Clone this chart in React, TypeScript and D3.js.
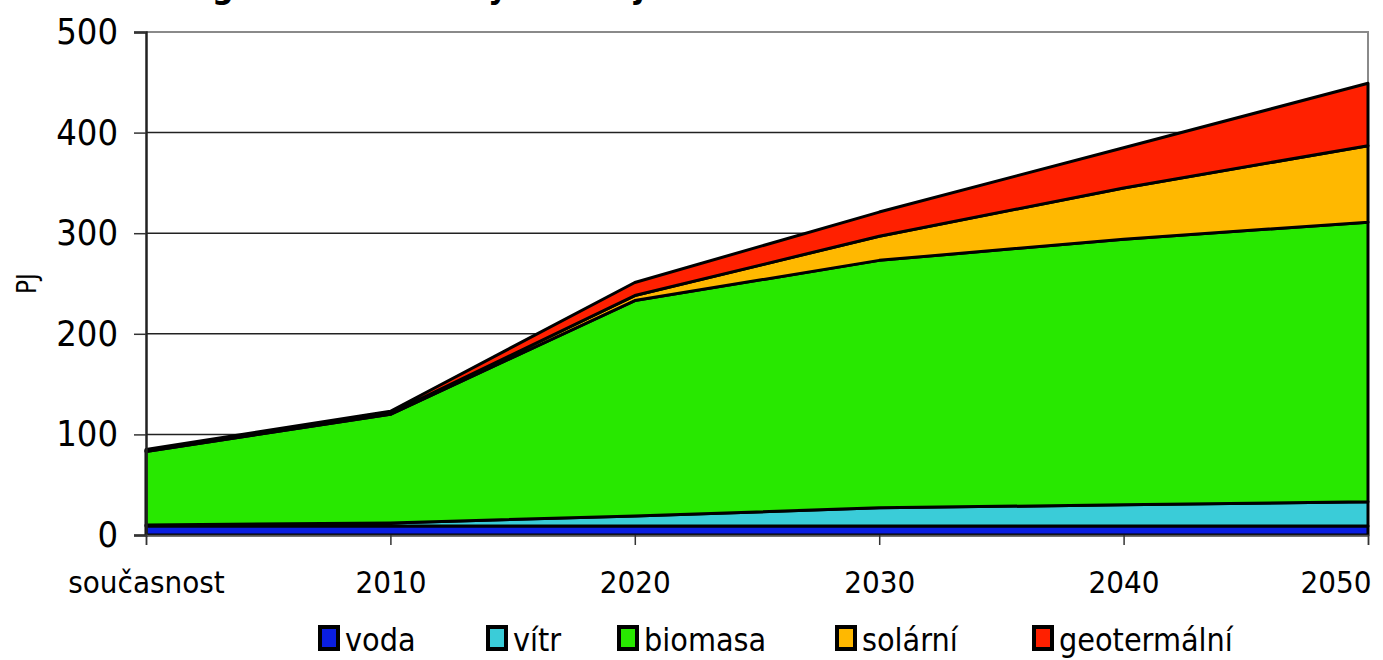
import { useEffect, useRef } from "react";
import * as d3 from "d3";

const YEARS = ["současnost", "2010", "2020", "2030", "2040", "2050"];
const SERIES = ["voda", "vítr", "biomasa", "solární", "geotermální"];
const VODA = [9, 9, 9, 9, 9, 9];
const VITR = [1, 3, 10, 18, 21, 24];
const BIOMASA = [73, 108, 214, 246, 264, 278];
const SOLARNI = [1, 1, 5, 24, 51, 76];
const GEOTERMALNI = [1, 2, 13, 24, 40, 62];
const Y_TICKS = [0, 100, 200, 300, 400, 500];

const COLORS: Record<string, string> = {
  voda: "#0a1ee0",
  vítr: "#3accd8",
  biomasa: "#28e800",
  solární: "#ffb800",
  geotermální: "#ff2000",
};

const W = 1383;
const H = 660;
const PLOT = { left: 146, right: 1368, top: 32, bottom: 535 };
const FONT = "'DejaVu Sans Condensed', 'DejaVu Sans', sans-serif";
const LEGEND_X = [318, 486, 617, 835, 1032];

export default function App() {
  const ref = useRef<SVGSVGElement | null>(null);

  useEffect(() => {
    document.body.style.margin = "0";
    const svg = d3.select(ref.current);
    svg.selectAll("*").remove();

    const rows = YEARS.map((year, i) => ({
      year,
      voda: VODA[i],
      vítr: VITR[i],
      biomasa: BIOMASA[i],
      solární: SOLARNI[i],
      geotermální: GEOTERMALNI[i],
    }));

    const x = d3.scalePoint<string>().domain(YEARS).range([PLOT.left, PLOT.right]);
    const y = d3.scaleLinear().domain([0, 500]).range([PLOT.bottom, PLOT.top]);

    // title, cut off by the top edge as in the source image (only descenders show)
    svg
      .append("text")
      .attr("x", 400)
      .attr("y", -2)
      .attr("text-anchor", "middle")
      .attr("font-family", FONT)
      .attr("font-stretch", "condensed")
      .attr("font-size", 34)
      .attr("font-weight", "bold")
      .text("Energie z obnovitelných zdrojů");

    // gridlines
    svg
      .append("g")
      .selectAll("line")
      .data(Y_TICKS.filter((t) => t > 0 && t < 500))
      .join("line")
      .attr("x1", PLOT.left)
      .attr("x2", PLOT.right)
      .attr("y1", (d) => y(d))
      .attr("y2", (d) => y(d))
      .attr("stroke", "#222")
      .attr("stroke-width", 1.5);

    // plot border (top + right)
    svg
      .append("path")
      .attr("d", `M${PLOT.left},${y(500)}H${PLOT.right}V${PLOT.bottom}`)
      .attr("fill", "none")
      .attr("stroke", "#8a8a8a")
      .attr("stroke-width", 2);

    const stack = d3.stack<any>().keys(SERIES);
    const layers = stack(rows);

    const area = d3
      .area<any>()
      .x((d) => x(d.data.year)!)
      .y0((d) => y(d[0]))
      .y1((d) => y(d[1]));

    svg
      .append("g")
      .selectAll("path")
      .data(layers)
      .join("path")
      .attr("d", area)
      .attr("fill", (d) => COLORS[d.key])
      .attr("stroke", "#000")
      .attr("stroke-width", 3)
      .attr("stroke-linejoin", "round");

    // y axis
    const yAxis = svg
      .append("g")
      .attr("transform", `translate(${PLOT.left},0)`)
      .call(d3.axisLeft(y).tickValues(Y_TICKS).tickSize(12).tickPadding(16));
    yAxis.select(".domain").attr("stroke", "#222").attr("stroke-width", 2.5);
    yAxis.selectAll(".tick line").attr("stroke", "#333").attr("stroke-width", 1.5);
    yAxis
      .selectAll(".tick text")
      .attr("font-family", FONT)
      .attr("font-stretch", "condensed")
      .attr("font-size", 36)
      .attr("fill", "#000");

    // x axis
    const xAxis = svg
      .append("g")
      .attr("transform", `translate(0,${PLOT.bottom})`)
      .call(d3.axisBottom(x).tickSize(10).tickPadding(26));
    xAxis.select(".domain").attr("stroke", "#555").attr("stroke-width", 1.5);
    xAxis.selectAll(".tick line").attr("stroke", "#333").attr("stroke-width", 1.5);
    xAxis
      .selectAll(".tick text")
      .attr("font-family", FONT)
      .attr("font-stretch", "condensed")
      .attr("font-size", 31)
      .attr("fill", "#000")
      .attr("text-anchor", (d) => (d === "2050" ? "end" : "middle"))
      .attr("dx", (d) => (d === "2050" ? 3 : 0));

    // y label
    svg
      .append("text")
      .attr("transform", `translate(36,${(PLOT.top + PLOT.bottom) / 2}) rotate(-90)`)
      .attr("text-anchor", "middle")
      .attr("font-family", FONT)
      .attr("font-stretch", "condensed")
      .attr("font-size", 26)
      .text("PJ");

    // legend
    const legend = svg
      .append("g")
      .selectAll("g")
      .data(SERIES)
      .join("g")
      .attr("transform", (_, i) => `translate(${LEGEND_X[i]},625)`);
    legend
      .append("rect")
      .attr("x", 2)
      .attr("y", 2)
      .attr("width", 18)
      .attr("height", 22)
      .attr("fill", (d) => COLORS[d])
      .attr("stroke", "#000")
      .attr("stroke-width", 4);
    legend
      .append("text")
      .attr("x", 27)
      .attr("y", 26)
      .attr("font-family", FONT)
      .attr("font-stretch", "condensed")
      .attr("font-size", 32)
      .text((d) => d);
  }, []);

  return <svg ref={ref} width={W} height={H} style={{ display: "block" }} />;
}
